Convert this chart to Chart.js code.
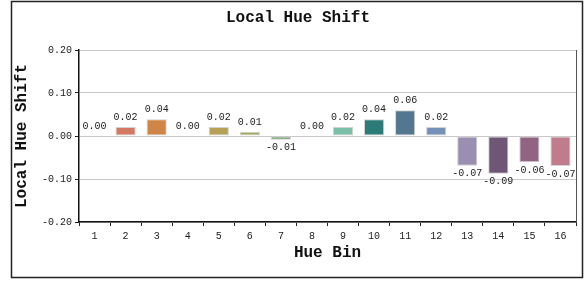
<!DOCTYPE html>
<html>
<head>
<meta charset="utf-8">
<script src="https://cdn.jsdelivr.net/npm/chart.js@4/dist/chart.umd.min.js"></script>
<style>
  body { margin: 0; background: #fff; }
  #wrap { width: 588px; height: 281px; }
</style>
</head>
<body>
<div id="wrap"><canvas id="chart" width="588" height="281"></canvas></div>
<script>
const bins = ['1', '2', '3', '4', '5', '6', '7', '8', '9', '10', '11', '12', '13', '14', '15', '16'];
const shifts = [0.00, 0.021, 0.039, 0.00, 0.021, 0.01, -0.009, 0.00, 0.021, 0.039, 0.06, 0.021, -0.069, -0.088, -0.061, -0.07];
const yTicks = [-0.2, -0.1, 0, 0.1, 0.2];
const barColors = [
  '#c86470', '#d37862', '#cf8546', '#c8a048', '#b6a056', '#a3a862', '#6c9a64', '#5aaa80',
  '#7cbfa8', '#2c7b78', '#53778e', '#7491b9', '#9b8fb1', '#6f5677', '#926483', '#c07b8c'
];

const monoFont = '"Courier New", "Liberation Mono", monospace';

// outer frame, title, right plot border and value labels
const decorations = {
  id: 'decorations',
  afterDraw(chart) {
    let ctx = chart.ctx;
    let area = chart.chartArea;
    ctx.save();

    ctx.strokeStyle = '#555';
    ctx.lineWidth = 1;
    ctx.beginPath();
    ctx.moveTo(Math.round(area.right) + 0.5, area.top);
    ctx.lineTo(Math.round(area.right) + 0.5, area.bottom);
    ctx.stroke();

    ctx.strokeStyle = '#222';
    ctx.lineWidth = 1.5;
    ctx.strokeRect(11.5, 1.5, 571, 276);

    ctx.fillStyle = '#111';
    ctx.font = 'bold 16px ' + monoFont;
    ctx.textAlign = 'center';
    ctx.textBaseline = 'middle';
    ctx.fillText('Local Hue Shift', 298, 18);

    ctx.font = '10px ' + monoFont;
    ctx.fillStyle = '#222';
    ctx.textBaseline = 'alphabetic';
    let meta = chart.getDatasetMeta(0);
    meta.data.forEach((bar, i) => {
      let v = shifts[i];
      let text = v.toFixed(2);
      if (v < 0) {
        ctx.fillText(text, bar.x, bar.y + 10.5);
      } else {
        ctx.fillText(text, bar.x, bar.y - 7);
      }
    });
    ctx.restore();
  }
};

const config = {
  type: 'bar',
  data: {
    labels: bins,
    datasets: [
      {
        label: 'Local Hue Shift',
        data: shifts,
        backgroundColor: barColors,
        borderColor: '#d2d2d2',
        borderWidth: 1,
        borderSkipped: false,
        categoryPercentage: 1,
        barPercentage: 0.65
      }
    ]
  },
  options: {
    responsive: false,
    animation: false,
    layout: {
      padding: { top: 50, right: 12, bottom: 0, left: 0 }
    },
    plugins: {
      legend: { display: false },
      title: { display: false },
      tooltip: { enabled: false }
    },
    scales: {
      x: {
        grid: {
          drawOnChartArea: false,
          drawTicks: true,
          tickLength: 4,
          tickColor: '#222',
          offset: true
        },
        border: { color: '#111', width: 1.5 },
        ticks: {
          color: '#222',
          padding: 4,
          maxRotation: 0,
          font: { family: monoFont, size: 10 }
        },
        title: {
          display: true,
          text: 'Hue Bin',
          color: '#111',
          padding: { top: 0, bottom: 18 },
          font: { family: monoFont, size: 16, weight: 'bold' }
        },
        afterFit(scale) {
          scale.height = 59;
        }
      },
      y: {
        min: -0.2,
        max: 0.2,
        afterBuildTicks(scale) {
          scale.ticks = yTicks.map(v => ({ value: v }));
        },
        grid: {
          color: '#c8c8c8',
          lineWidth: 1,
          tickLength: 4,
          tickColor: '#222'
        },
        border: { color: '#111', width: 1.5 },
        ticks: {
          color: '#222',
          padding: 3,
          font: { family: monoFont, size: 10 },
          callback: v => v.toFixed(2)
        },
        title: {
          display: true,
          text: 'Local Hue Shift',
          color: '#111',
          padding: { top: 12, bottom: 0 },
          font: { family: monoFont, size: 16, weight: 'bold' }
        },
        afterFit(scale) {
          scale.width = 79;
        }
      }
    }
  },
  plugins: [decorations]
};

var chart = new Chart(document.getElementById('chart'), config);
</script>
</body>
</html>
